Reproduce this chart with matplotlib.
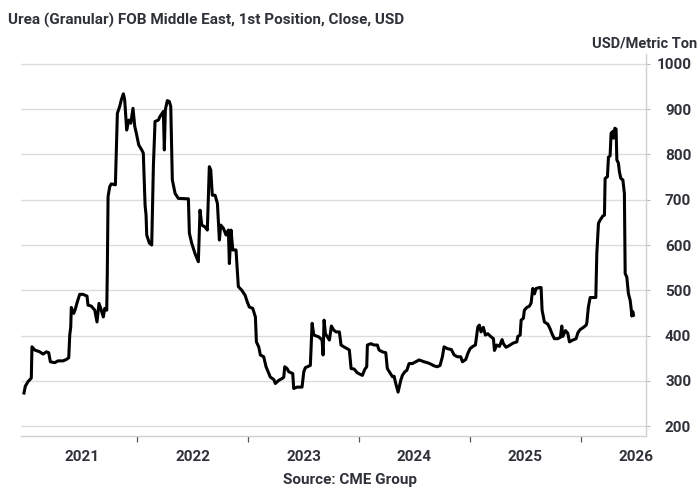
import matplotlib
matplotlib.use("Agg")
import matplotlib.pyplot as plt
from matplotlib.ticker import FixedLocator

plt.rcParams['font.family'] = ['Roboto', 'DejaVu Sans']

# decimal years
years = [
    2020.476, 2020.488, 2020.512, 2020.542, 2020.548, 2020.573, 2020.618, 2020.648, 2020.678, 2020.699,
    2020.714, 2020.753, 2020.783, 2020.828, 2020.858, 2020.880, 2020.889, 2020.898, 2020.903, 2020.925,
    2020.939, 2020.957, 2020.979, 2021.009, 2021.045, 2021.054, 2021.084, 2021.115, 2021.135, 2021.153,
    2021.174, 2021.192, 2021.205, 2021.223, 2021.228, 2021.235, 2021.250, 2021.264, 2021.301, 2021.310,
    2021.319, 2021.340, 2021.355, 2021.373, 2021.385, 2021.403, 2021.422, 2021.440, 2021.460, 2021.476,
    2021.490, 2021.512, 2021.539, 2021.553, 2021.569, 2021.578, 2021.584, 2021.608, 2021.629, 2021.644,
    2021.659, 2021.689, 2021.704, 2021.734, 2021.743, 2021.752, 2021.770, 2021.788, 2021.801, 2021.815,
    2021.840, 2021.869, 2021.960, 2021.969, 2021.990, 2022.020, 2022.050, 2022.065, 2022.081, 2022.110,
    2022.131, 2022.149, 2022.162, 2022.176, 2022.201, 2022.222, 2022.240, 2022.252, 2022.276, 2022.300,
    2022.321, 2022.330, 2022.345, 2022.361, 2022.390, 2022.411, 2022.442, 2022.472, 2022.492, 2022.510,
    2022.541, 2022.565, 2022.574, 2022.595, 2022.610, 2022.640, 2022.661, 2022.686, 2022.700, 2022.731,
    2022.745, 2022.776, 2022.806, 2022.821, 2022.830, 2022.851, 2022.866, 2022.902, 2022.911, 2022.941,
    2022.986, 2023.002, 2023.016, 2023.061, 2023.077, 2023.092, 2023.137, 2023.167, 2023.176, 2023.185,
    2023.197, 2023.233, 2023.251, 2023.272, 2023.293, 2023.323, 2023.338, 2023.363, 2023.393, 2023.413,
    2023.429, 2023.456, 2023.483, 2023.513, 2023.531, 2023.552, 2023.570, 2023.576, 2023.607, 2023.636,
    2023.666, 2023.681, 2023.711, 2023.742, 2023.756, 2023.781, 2023.802, 2023.817, 2023.832, 2023.853,
    2023.877, 2023.892, 2023.914, 2023.932, 2023.952, 2023.982, 2024.013, 2024.043, 2024.088, 2024.118,
    2024.148, 2024.178, 2024.208, 2024.232, 2024.253, 2024.268, 2024.298, 2024.334, 2024.359, 2024.389,
    2024.419, 2024.434, 2024.464, 2024.482, 2024.503, 2024.528, 2024.551, 2024.573, 2024.587, 2024.602,
    2024.623, 2024.641, 2024.663, 2024.693, 2024.714, 2024.723, 2024.744, 2024.768, 2024.792, 2024.804,
    2024.828, 2024.858, 2024.889, 2024.925, 2024.934, 2024.955, 2024.964, 2024.984, 2024.993, 2025.015,
    2025.039, 2025.054, 2025.069, 2025.084, 2025.099, 2025.129, 2025.144, 2025.153, 2025.174, 2025.205,
    2025.225, 2025.244, 2025.264, 2025.295, 2025.318, 2025.331, 2025.340, 2025.364, 2025.385, 2025.400,
    2025.430, 2025.460, 2025.476, 2025.496, 2025.526, 2025.551, 2025.557, 2025.571, 2025.587, 2025.638,
    2025.647, 2025.662, 2025.677, 2025.701, 2025.716, 2025.722, 2025.743, 2025.752, 2025.767, 2025.776,
    2025.792, 2025.797, 2025.810, 2025.821, 2025.828, 2025.842, 2025.851, 2025.864, 2025.882, 2025.896,
    2025.903, 2025.918, 2025.932, 2025.948, 2025.957, 2025.963, 2025.972, 2025.978,
]

prices = [
    273, 288, 298, 306, 375, 368, 364, 359, 364, 362,
    342, 340, 344, 344, 347, 351, 401, 419, 462, 449,
    458, 474, 491, 491, 487, 467, 465, 456, 430, 471,
    456, 441, 460, 456, 537, 707, 729, 735, 733, 810,
    891, 906, 921, 934, 921, 854, 876, 869, 902, 862,
    847, 821, 810, 803, 688, 666, 622, 604, 600, 773,
    873, 876, 884, 895, 810, 899, 919, 917, 906, 744,
    714, 703, 702, 626, 604, 581, 563, 677, 644, 640,
    633, 773, 766, 710, 710, 692, 611, 644, 637, 622,
    633, 559, 633, 589, 589, 508, 500, 489, 474, 463,
    460, 441, 386, 375, 357, 353, 331, 316, 308, 303,
    294, 301, 305, 308, 331, 327, 320, 316, 283, 286,
    286, 320, 329, 334, 427, 401, 397, 390, 357, 434,
    404, 390, 421, 412, 408, 408, 379, 375, 371, 368,
    327, 326, 318, 314, 312, 325, 331, 379, 382, 379,
    379, 368, 364, 362, 327, 317, 309, 310, 294, 275,
    301, 312, 320, 323, 338, 338, 342, 346, 342, 340,
    337, 333, 331, 334, 353, 375, 371, 369, 357, 353,
    353, 342, 347, 360, 371, 376, 379, 419, 423, 408,
    418, 401, 404, 397, 393, 367, 379, 376, 391, 382,
    374, 378, 383, 386, 398, 401, 434, 438, 456, 462,
    465, 472, 504, 492, 504, 506, 506, 456, 430, 425,
    415, 403, 393, 393, 396, 421, 398, 411, 405, 386,
    390, 393, 406, 413, 418, 423, 428, 463, 484, 484,
    581, 648, 655, 664, 666, 747, 751, 794, 797, 847,
    851, 836, 858, 856, 788, 781, 762, 747, 744, 714,
    537, 529, 493, 478, 460, 443, 453, 445,
]

year_labels = ['2021', '2022', '2023', '2024', '2025', '2026']
year_ticks = [2021, 2022, 2023, 2024, 2025, 2026]
mid_year_ticks = [2021.5, 2022.5, 2023.5, 2024.5, 2025.5]
y_ticks = [200, 300, 400, 500, 600, 700, 800, 900, 1000]

title = 'Urea (Granular) FOB Middle East, 1st Position, Close, USD'
unit = 'USD/Metric Ton'
source = 'Source: CME Group'

text_col = '#2f3238'
grid_col = '#dcdcdc'

fig = plt.figure(figsize=(7, 5), dpi=100)
ax = fig.add_axes([0.03, 0.128, 0.893, 0.764])

ax.plot(years, prices, color='black', linewidth=2.2, solid_joinstyle='round')

ax.set_xlim(2020.449, 2026.092)
ax.set_ylim(178, 1022)

ax.yaxis.tick_right()
ax.set_yticks(y_ticks)
ax.set_yticklabels([str(v) for v in y_ticks])
ax.tick_params(axis='y', which='major', length=3, width=0.8, color='#bbbbbb',
               labelsize=11, labelcolor=text_col, pad=29.5)
for t in ax.yaxis.get_major_ticks():
    t.label2.set_horizontalalignment('right')
    t.label2.set_fontweight('bold')

ax.xaxis.set_major_locator(FixedLocator(year_ticks))
ax.set_xticklabels(year_labels)
ax.xaxis.set_minor_locator(FixedLocator(mid_year_ticks))
ax.tick_params(axis='x', which='major', length=0, labelsize=11, labelcolor=text_col, pad=10)
ax.tick_params(axis='x', which='minor', length=4, width=0.9, color='#555555')
for t in ax.xaxis.get_major_ticks():
    t.label1.set_fontweight('bold')

ax.grid(axis='y', color=grid_col, linewidth=1.0)
ax.set_axisbelow(True)

for s in ['top', 'left']:
    ax.spines[s].set_visible(False)
ax.spines['right'].set_color('#d0d0d0')
ax.spines['bottom'].set_color('#d0d0d0')
ax.spines['right'].set_linewidth(1.0)
ax.spines['bottom'].set_linewidth(1.0)

fig.text(8 / 700, 1 - 20 / 500, title, fontsize=11, fontweight='bold', color=text_col,
         ha='left', va='center')
fig.text(697 / 700, 1 - 44 / 500, unit, fontsize=10.5, fontweight='bold', color=text_col,
         ha='right', va='center')
fig.text(0.5, 1 - 480 / 500, source, fontsize=11, fontweight='bold', color=text_col,
         ha='center', va='center')

fig.savefig('out.png', dpi=100)
